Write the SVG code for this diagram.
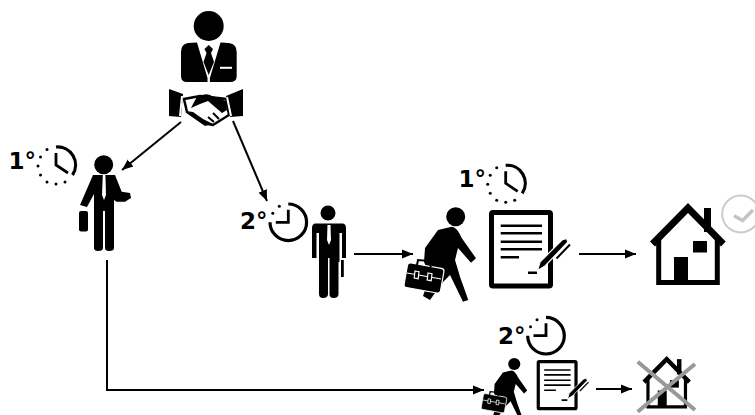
<svg xmlns="http://www.w3.org/2000/svg" width="755" height="415" viewBox="0 0 755 415">
<style>
.t{font-family:"DejaVu Sans","Liberation Sans",sans-serif;font-weight:700;font-size:23px;fill:#000}
.c{fill:none;stroke:#000;stroke-width:3.2}
.ln{fill:none;stroke:#000;stroke-width:2}
.w{fill:#fff}
.b{fill:#000}
</style>
<defs>
<marker id="a" markerUnits="userSpaceOnUse" markerWidth="12" markerHeight="12" refX="11" refY="6" orient="auto"><path d="M0 1.500L11 6L0 10.500Z" fill="#000"/></marker>
<g id="walker">
<circle cx="455.700" cy="216.700" r="9.500"/>
<path d="M438 230L451.700 226.700Q457 227 461.700 238L476 258.300L471 262.700L458 248L455 260L460 276.700L468.300 300L463 301.700L450 275L443 282L435 293L430 300L423 296L430 275L424 262L425 248Z"/>
<rect x="-18.500" y="-12.500" width="37" height="25" rx="3" transform="translate(424 278) rotate(10)" fill="#000" stroke="#fff" stroke-width="1.200"/>
<path d="M417 265L418 260L429 261L431 267" fill="none" stroke="#000" stroke-width="2"/>
<path d="M407 273L441 279" fill="none" stroke="#fff" stroke-width="1.200"/>
<path d="M415 271l4 .7l-.8 7l-4-.7zM428 273l4 .7l-.8 7l-4-.7z" fill="#000" stroke="#fff" stroke-width="1.200"/>
</g>
<g id="doc">
<rect x="491.500" y="212.500" width="59" height="73.500" rx="1.500" fill="#fff" stroke="#000" stroke-width="5"/>
<path d="M500.700 225.700H542M500.700 233.300H542M500.700 241.700H542M500.700 249.300H542M500.700 257.300H519M528 272.700H537" fill="none" stroke="#000" stroke-width="2.500"/>
<path d="M537.500 270.500L540 262L562 240L566.500 238.500L568 242L545 266Z" fill="#000" stroke="#fff" stroke-width="1.200"/>
<path d="M556.500 258.500L570 244.500" fill="none" stroke="#000" stroke-width="2"/>
</g>
<g id="house">
<path d="M704 208H711V232H704Z"/>
<path d="M650 241.500L688 203L725.700 241.500L721 246.500L688 213L655 246.500Z"/>
<path d="M658.700 238V282.500H717.300V238" fill="none" stroke="#000" stroke-width="5"/>
<rect x="693" y="241" width="14" height="11.500"/>
<rect x="674" y="257" width="14" height="26"/>
</g>
<g id="clock1">
<path class="c" d="M0 -18A18 18 0 0 1 16.500 10"/>
<path d="M0 -12V0L12 8" fill="none" stroke="#000" stroke-width="2.800"/>
<g class="b"><circle cx="-9" cy="-15.500" r="1.500"/><circle cx="-15.500" cy="-8" r="1.500"/><circle cx="-18" cy="1" r="1.500"/><circle cx="-15.500" cy="10" r="1.500"/><circle cx="-9" cy="17" r="1.500"/><circle cx="0" cy="19" r="1.500"/><circle cx="9" cy="17" r="1.500"/></g>
</g>
<g id="clock2">
<path class="c" d="M0 -18.300A18.300 18.300 0 1 1 -18.300 0"/>
<path d="M0 -12.500V0H-12.500" fill="none" stroke="#000" stroke-width="2.800"/>
<circle cx="-9" cy="-16" r="1.500"/><circle cx="-15.500" cy="-9" r="1.500"/>
</g>
</defs>

<g id="connectors">
<path class="ln" d="M181 122L122 170" marker-end="url(#a)"/>
<path class="ln" d="M233 121L267 201" marker-end="url(#a)"/>
<path class="ln" d="M354 254H413" marker-end="url(#a)"/>
<path class="ln" d="M579 254H636" marker-end="url(#a)"/>
<path class="ln" d="M107 260V390H484" marker-end="url(#a)"/>
<path class="ln" d="M596 389H632" marker-end="url(#a)"/>
</g>

<g id="manager">
<circle cx="208.700" cy="26" r="15"/>
<path d="M188 43L197 42.500L207.500 78V82H187Q181 82 181 76V52Q181 44 188 43Z"/>
<path d="M229 43L220.500 42.500L209.900 78V82H230Q236.700 82 236.700 76V52Q236.700 44 229 43Z"/>
<path d="M208.700 45L213 49L211 53L214 62L208.700 75L203.500 62L206.500 53L204.500 49Z"/>
<rect x="220" y="66.800" width="12" height="2" class="w"/>
</g>
<g id="handshake">
<path d="M169 89L183 94L181 117L169 116Z"/>
<path d="M243 89L226 96L230 117L243 116Z"/>
<path d="M184 99L200 96L226 99L229 115L213 125L203 123L187 112Z" fill="#fff" stroke="#000" stroke-width="2.500"/>
<path d="M197 97Q206 92 212 96L226 101L227 110L222 113L208 101L200 104L191 108Q195 100 197 97Z"/>
<path d="M186 111L195 118L205 126L213 124L203 119L193 112Z"/>
<path d="M213 113L219 119M208 117L214 122" stroke="#000" stroke-width="2" fill="none"/>
<path d="M182 96L180 116M227 97L231 116" stroke="#fff" stroke-width="2" fill="none"/>
</g>

<g id="time-1">
<text class="t" x="8.500" y="169">1°</text>
<use href="#clock1" transform="translate(56 165)"/>
</g>
<g id="employee-1">
<circle cx="103.700" cy="164.700" r="9.500"/>
<path d="M93 175H115L121.700 191.700L130 193L131 198L125 201.700H116.700L114 200V248Q114 251 109 251Q105 251 105 248V211H103V248Q103 251 98 251Q94 251 94 248V194L87 207L80 205Z"/>
<path d="M102.800 175H105.400L106 195L104 200L102 195Z" class="w"/>
<rect x="79" y="211" width="9" height="20.500" rx="2"/>
</g>

<g id="time-2">
<text class="t" x="240" y="228.500">2°</text>
<use href="#clock2" transform="translate(288.300 222.300)"/>
</g>
<g id="employee-2">
<circle cx="328" cy="213" r="7.500"/>
<path d="M315 223.500H343Q346 224 346 228V258H342V233H339.500V262H338.500V294Q338.500 298 333.500 298Q329.500 298 329.500 294V258H328V294Q328 298 323 298Q319 298 319 294V233H316.500V258H312V228Q312 224 315 223.500Z"/>
<path d="M327.500 225H330.500L331 240L329 245L327 240Z" class="w"/>
<rect x="341" y="260" width="2.800" height="17"/>
</g>

<g id="time-3">
<text class="t" x="458.500" y="187">1°</text>
<use href="#clock1" transform="translate(505.700 183.300)"/>
</g>
<use id="walker-1" href="#walker"/>
<use id="contract-1" href="#doc"/>
<g id="house-1"><use href="#house"/></g>
<g id="check">
<circle cx="740.700" cy="214" r="18.500" fill="#fff" stroke="#ccc" stroke-width="2"/>
<path d="M734 215.700L742.700 220.500L753 210" fill="none" stroke="#c4c4c4" stroke-width="3.500"/>
</g>

<g id="time-4">
<text class="t" x="498" y="344">2°</text>
<use href="#clock2" transform="translate(546 335.700)"/>
</g>
<use id="walker-2" href="#walker" transform="translate(222.600 225.300) scale(.64)"/>
<use id="contract-2" href="#doc" transform="translate(223.700 225.600) scale(.64)"/>
<g id="house-2">
<use href="#house" transform="translate(226.400 226) scale(.64)"/>
<path d="M637.700 361.700L695 410M695 364L637.700 411.700" fill="none" stroke="#999" stroke-width="4"/>
</g>
</svg>
